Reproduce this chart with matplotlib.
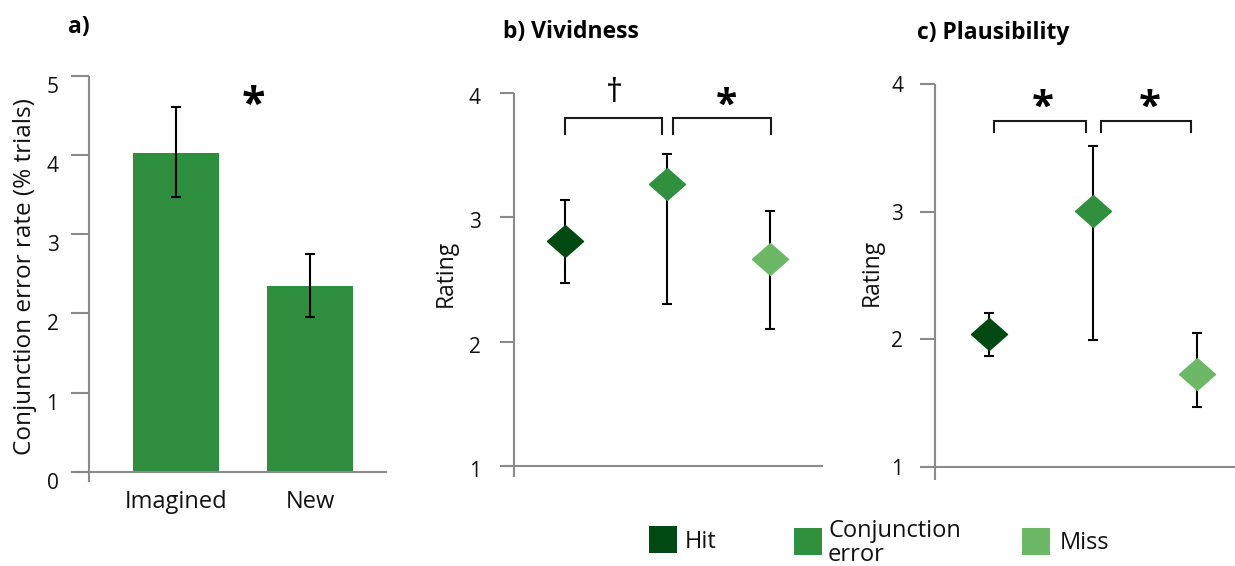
import matplotlib
matplotlib.use('Agg')
import matplotlib.pyplot as plt
from matplotlib.patches import Rectangle
from matplotlib.transforms import ScaledTranslation
import numpy as np

plt.rcParams['font.family'] = ['Open Sans', 'DejaVu Sans']

# a) conjunction error rate
lure_types = ['Imagined', 'New']
error_rate = [4.02, 2.35]
error_rate_lo = [0.55, 0.39]
error_rate_hi = [0.58, 0.40]

# b) vividness and c) plausibility ratings
response_types = ['Hit', 'Conjunction\nerror', 'Miss']
vivid_mean = [2.81, 3.27, 2.665]
vivid_upper = [3.14, 3.51, 3.05]
vivid_lower = [2.47, 2.30, 2.10]
plaus_mean = [2.04, 3.01, 1.73]
plaus_upper = [2.205, 3.52, 2.05]
plaus_lower = [1.87, 1.995, 1.47]

resp_colors = ['#014912', '#31903e', '#6cb866']
bar_color = '#2f8e3d'
axis_gray = '#8a8a8a'

W, H = 1235, 566
fig = plt.figure(figsize=(W / 100, H / 100), dpi=100)


def px_axes(l, r, t, b):
    return fig.add_axes([l / W, 1 - b / H, (r - l) / W, (b - t) / H])


def fig_text(x, y, s, **kw):
    fig.text(x / W, 1 - y / H, s, **kw)


def excel_axes(ax, l, r, t, b, ext_left, ext_below, tick_len, pad, label_shift):
    for sp in ax.spines.values():
        sp.set_visible(False)
    ex = ext_left / (r - l)
    ey = ext_below / (b - t)
    ax.plot([0, 0], [-ey, 1], transform=ax.transAxes, color=axis_gray,
            lw=1.5, clip_on=False, solid_capstyle='butt')
    ax.plot([-ex, 1], [0, 0], transform=ax.transAxes, color=axis_gray,
            lw=1.5, clip_on=False, solid_capstyle='butt')
    ax.tick_params(axis='y', length=tick_len, width=1.5, color=axis_gray,
                   pad=pad, labelsize=15, labelcolor='#111111')
    off = ScaledTranslation(0, -label_shift / 100, fig.dpi_scale_trans)
    for lab in ax.get_yticklabels():
        lab.set_transform(lab.get_transform() + off)


# ---- panel a ----
la, ra, ta, ba = 89, 387, 75.7, 472
ax_a = px_axes(la, ra, ta, ba)
xa = np.arange(len(lure_types))
ax_a.bar(xa, error_rate, width=0.64, color=bar_color, zorder=2)
ax_a.errorbar(xa, error_rate, yerr=[error_rate_lo, error_rate_hi], fmt='none',
              ecolor='black', elinewidth=1.5, capsize=3.8, capthick=1.5, zorder=3)
ax_a.set_xlim(-0.649, 1.575)
ax_a.set_ylim(0, 5)
ax_a.set_yticks(range(0, 6))
ax_a.set_xticks(xa)
ax_a.set_xticklabels(lure_types, fontsize=17, color='#111111')
ax_a.tick_params(axis='x', length=0, pad=13)
excel_axes(ax_a, la, ra, ta, ba, 14, 10, 13, 9, 9)
ax_a.text(0.575, 4.61, '*', fontsize=31, fontweight='bold', ha='center', va='center')
fig_text(25, 277, 'Conjunction error rate (% trials)', rotation=90,
         ha='center', va='center', fontsize=17.5, color='#111111')
fig_text(68, 27, 'a)', ha='left', va='center', fontsize=16.5, fontweight='bold')


def rating_panel(l, r, t, b, xlim_lo, xlim_hi, mean, lower, upper,
                 ext_left, ext_below, tick_len, pad, shift):
    ax = px_axes(l, r, t, b)
    x = np.arange(len(mean))
    m = np.array(mean)
    ax.errorbar(x, m, yerr=[m - np.array(lower), np.array(upper) - m], fmt='none',
                ecolor='black', elinewidth=1.5, capsize=3.6, capthick=1.5, zorder=2)
    diamond = [(-1, 0), (0, 0.88), (1, 0), (0, -0.88), (-1, 0)]
    for xi, yi, c in zip(x, m, resp_colors):
        ax.plot(xi, yi, marker=diamond, ms=26, color=c, mec=c, ls='none', zorder=3)
    ax.set_xlim(xlim_lo, xlim_hi)
    ax.set_ylim(1, 4)
    ax.set_yticks([1, 2, 3, 4])
    ax.set_xticks([])
    excel_axes(ax, l, r, t, b, ext_left, ext_below, tick_len, pad, shift)
    return ax


def bracket(ax, x0, x1, y_top, y_leg):
    ax.plot([x0, x0, x1, x1], [y_leg, y_top, y_top, y_leg], color='#1a1a1a',
            lw=1.5, clip_on=False, solid_joinstyle='miter')


# ---- panel b ----
ax_b = rating_panel(514, 822.7, 92.7, 466.2, -0.5, 2.52, vivid_mean, vivid_lower,
                    vivid_upper, 10, 11, 10, 14, 3)
bracket(ax_b, 0.0, 0.95, 3.794, 3.668)
bracket(ax_b, 1.06, 2.01, 3.794, 3.668)
ax_b.text(0.48, 3.99, '\u2020', fontsize=24, ha='center', va='center', clip_on=False)
ax_b.text(1.58, 3.89, '*', fontsize=28, fontweight='bold', ha='center', va='center')
fig_text(446, 273, 'Rating', rotation=90, ha='center', va='center',
         fontsize=16.5, color='#111111')
fig_text(503, 32, 'b) Vividness', ha='left', va='center', fontsize=16.5,
         fontweight='bold')

# ---- panel c ----
ax_c = rating_panel(935, 1235, 84.3, 467, -0.52, 2.37, plaus_mean, plaus_lower,
                    plaus_upper, 11, 13, 11, 12, 0)
bracket(ax_c, 0.05, 0.93, 3.715, 3.625)
bracket(ax_c, 1.08, 1.95, 3.715, 3.625)
ax_c.text(0.52, 3.81, '*', fontsize=29, fontweight='bold', ha='center', va='center')
ax_c.text(1.55, 3.81, '*', fontsize=29, fontweight='bold', ha='center', va='center')
fig_text(872, 272, 'Rating', rotation=90, ha='center', va='center',
         fontsize=16.5, color='#111111')
fig_text(917, 33, 'c) Plausibility', ha='left', va='center', fontsize=16.5,
         fontweight='bold')

# ---- legend ----
sq_left = [649, 794, 1022]
sq_top = [526, 528, 528]
txt_left = [685, 828, 1060]
txt_mid = [542, 543, 543]
for i, (lab, c) in enumerate(zip(response_types, resp_colors)):
    fig.patches.append(Rectangle((sq_left[i] / W, 1 - (sq_top[i] + 27) / H),
                                 28 / W, 27 / H, transform=fig.transFigure,
                                 facecolor=c, edgecolor='none'))
    fig_text(txt_left[i], txt_mid[i], lab, ha='left', va='center', fontsize=17,
             color='#111111', linespacing=1.05)

plt.savefig('out.png', dpi=100)
